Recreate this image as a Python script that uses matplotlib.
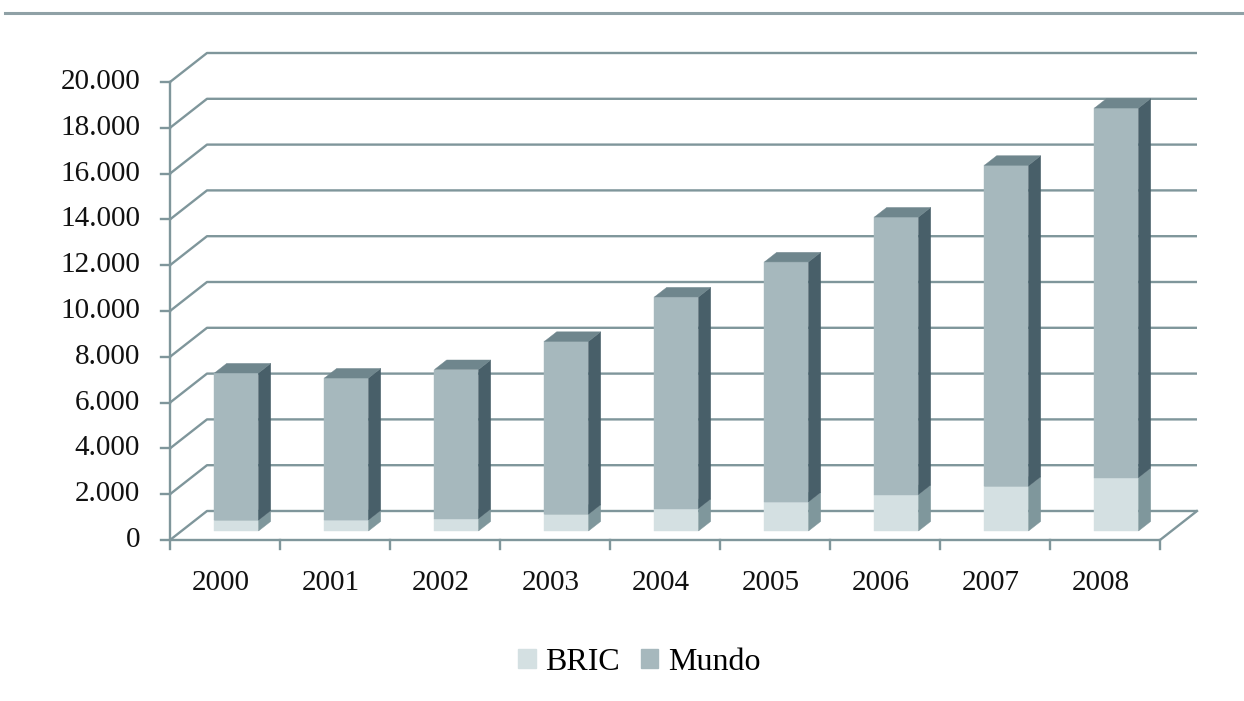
import numpy as np
import matplotlib
matplotlib.use("Agg")
import matplotlib.pyplot as plt
from matplotlib.patches import Polygon, Patch
from matplotlib.lines import Line2D

years = ["2000", "2001", "2002", "2003", "2004", "2005", "2006", "2007", "2008"]
bric = [470, 480, 540, 730, 980, 1270, 1590, 1950, 2330]
mundo = [6430, 6200, 6510, 7550, 9240, 10480, 12120, 14020, 16140]
y_ticks = np.arange(0, 20001, 2000)
y_labels = [f"{v:,}".replace(",", ".") for v in y_ticks]

font = "Liberation Serif"
fs = 21
grid_c = "#7f969b"
bric_c = ("#d4e0e2", "#7f979c", "#a9babe")     # front, side, top
mundo_c = ("#a6b8bd", "#485f69", "#6f868d")

W, H = 1244, 701
fig = plt.figure(figsize=(W / 100, H / 100), dpi=100)
ax = fig.add_axes([0, 0, 1, 1])
ax.axis("off")

# front plane layout in pixels
x0_px, cat_px = 170, 110
y0_px, k_px = 540, 22.9 / 1000
ax.set_xlim(-x0_px / cat_px, (W - x0_px) / cat_px)
ax.set_ylim(-(H - y0_px) / k_px, y0_px / k_px)

# oblique depth offset
DX = 37 / cat_px
DY = 29 / k_px
n = len(years)


def P(x, v, z):
    return (x + z * DX, v + z * DY)


lw = 1.7
# back wall gridlines + left wall diagonals
for v in y_ticks:
    pts = [P(0, v, 0), P(0, v, 1), P(n, v, 1)]
    ax.plot([p[0] for p in pts], [p[1] for p in pts], color=grid_c, lw=lw,
            solid_capstyle="butt", zorder=1)

# floor edges and front value axis
pts = [P(0, y_ticks[-1], 0), P(0, 0, 0), P(n, 0, 0), P(n, 0, 1)]
ax.plot([p[0] for p in pts], [p[1] for p in pts], color=grid_c, lw=lw, zorder=2)

tick_len_x = 9 / cat_px
tick_len_y = 9 / k_px
for v, lab in zip(y_ticks, y_labels):
    ax.plot([-tick_len_x, 0], [v, v], color=grid_c, lw=lw, zorder=2)
    ax.text(-30 / cat_px, v, lab, ha="right", va="center", fontsize=fs,
            family=font, color="#111111")
for i in range(n + 1):
    ax.plot([i, i], [0, -tick_len_y], color=grid_c, lw=lw, zorder=2)
for i, yr in enumerate(years):
    ax.text(i + 0.46, -43 / k_px, yr, ha="center", va="center", fontsize=fs,
            family=font, color="#111111")

# 3D stacked bars
z0, z1 = 0.31, 0.64
xl_off, xr_off = 0.3, 0.7


def box(i, b, t, cols):
    xl, xr = i + xl_off, i + xr_off
    front = [P(xl, b, z0), P(xr, b, z0), P(xr, t, z0), P(xl, t, z0)]
    side = [P(xr, b, z0), P(xr, b, z1), P(xr, t, z1), P(xr, t, z0)]
    top = [P(xl, t, z0), P(xr, t, z0), P(xr, t, z1), P(xl, t, z1)]
    for poly, c in zip((front, side, top), cols):
        ax.add_patch(Polygon(poly, closed=True, facecolor=c, edgecolor=c,
                             lw=0.3, zorder=5))


for i in range(n):
    box(i, 0, bric[i], bric_c)
    box(i, bric[i], bric[i] + mundo[i], mundo_c)

# page rule at the top
fig.add_artist(Line2D([0.004, 1], [1 - 13 / H] * 2, transform=fig.transFigure,
                      color="#8fa1a6", lw=2.2))

fig.legend(handles=[Patch(color=bric_c[0]), Patch(color=mundo_c[0])],
           labels=["BRIC", "Mundo"], loc="center",
           bbox_to_anchor=(0.514, 1 - 662 / H), ncol=2, frameon=False,
           prop={"family": font, "size": 23}, handlelength=0.55,
           handleheight=0.55, handletextpad=0.3, columnspacing=0.65)

fig.savefig("out.png", dpi=100, facecolor="white")
